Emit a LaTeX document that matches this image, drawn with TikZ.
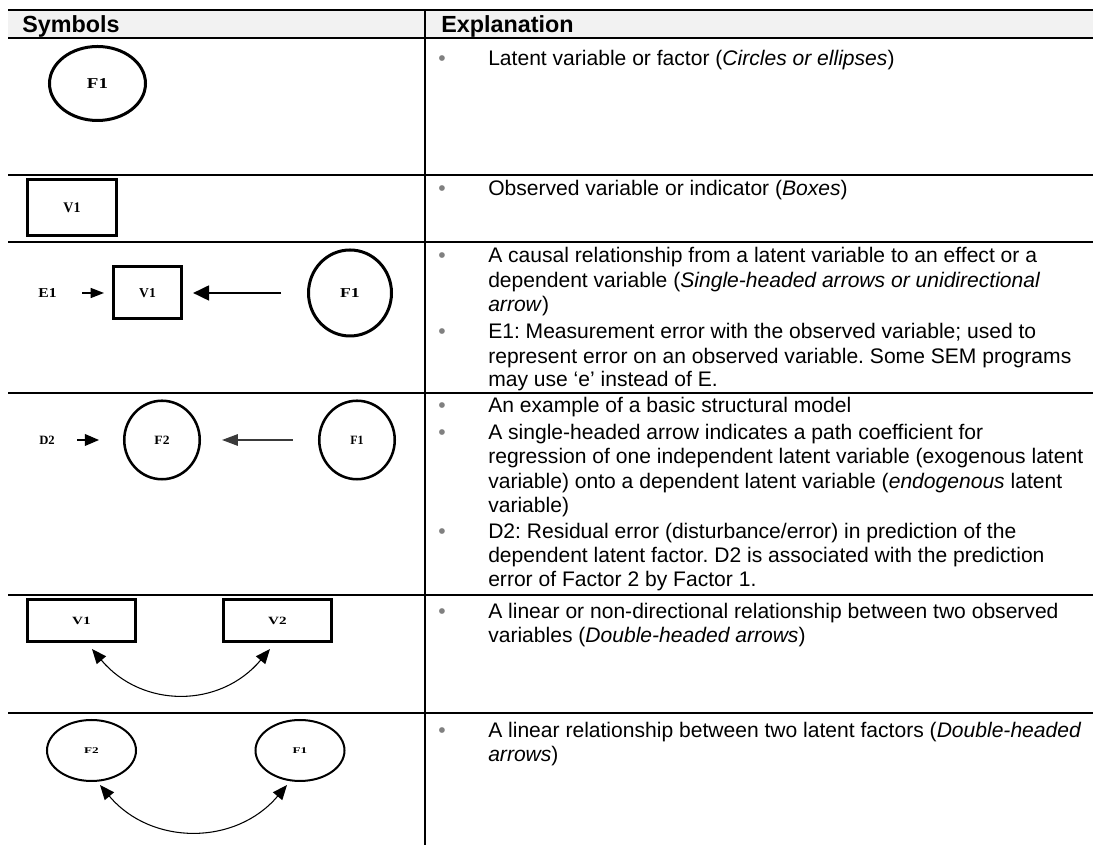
\documentclass[tikz,border=0pt]{standalone}
\usepackage{graphicx}
\usepackage{fontspec}
\setmainfont{Liberation Sans}
\newfontfamily\labelserif{Liberation Serif}
\usetikzlibrary{arrows.meta,shapes.geometric}
\frenchspacing

% one drawing unit = one pixel
\newdimen\pxl \pxl=0.75pt

\definecolor{headgray}{HTML}{F2F2F2}
\definecolor{bulletgray}{HTML}{808080}
\definecolor{shaftgray}{HTML}{3A3A3A}

% bold serif label: size, horizontal stretch, text
\newcommand\symlabel[3]{{\fontsize{#1}{#1}\selectfont\labelserif\bfseries\scalebox{#2}[1]{#3}}}

\tikzset{
  rule/.style={line width=1.5pt},
  hdr/.style={anchor=base west, inner sep=0pt, font=\fontsize{17.5}{21}\selectfont\bfseries},
  txt/.style={anchor=base west, inner sep=0pt, font=\fontsize{15.8}{18}\selectfont},
  bul/.style={anchor=base, inner sep=0pt, text=bulletgray, font=\fontsize{15.8}{18}\selectfont},
  latent/.style={ellipse, draw, inner sep=0pt},
  observed/.style={rectangle, draw, inner sep=0pt},
  lbl/.style={inner sep=0pt},
  dbl/.style={line width=0.8pt, {Triangle[length=11pt,width=9pt]}-{Triangle[length=11pt,width=9pt]}},
}

\begin{document}
\begin{tikzpicture}[x=0.75pt, y=0.75pt]
\useasboundingbox (0,0) rectangle (1093,845);

% ---- table frame ----
\fill[headgray] (8,807) rectangle (1093,835);
\foreach \yy in {835,807,670,603,452,250,132}
  \draw[rule] (8,\yy) -- (1093,\yy);
\draw[rule] (425,835) -- (425,0);

\node[hdr] (hsym) at (22,812.7) {Symbols};
\node[hdr] (hexp) at (441,812.7) {Explanation};

% ---- row 1: latent variable ----
\node[latent, line width=2.25pt, minimum width=96\pxl, minimum height=74\pxl] (r1f1) at (97.5,761.5) {\symlabel{11.3}{1.26}{F1}};
\node[bul] (r1b1) at (442,779.5) {•};
\node[txt] (r1l1) at (488,779.5) {Latent variable or factor (\textit{Circles or ellipses})};

% ---- row 2: observed variable ----
\node[observed, line width=2.25pt, minimum width=89\pxl, minimum height=56\pxl] (r2v1) at (72,637.5) {\symlabel{11}{0.95}{V1}};
\node[bul] (r2b1) at (442,649) {•};
\node[txt] (r2l1) at (488,649) {Observed variable or indicator (\textit{Boxes})};

% ---- row 3: causal path with measurement error ----
\node[lbl] (r3e1) at (47.5,552) {\symlabel{10.2}{1.15}{E1}};
\node[observed, line width=2.25pt, minimum width=68\pxl, minimum height=52\pxl] (r3v1) at (147.5,552) {\symlabel{10.2}{1}{V1}};
\node[latent, line width=2.25pt, minimum width=83\pxl, minimum height=86\pxl] (r3f1) at (350,552) {\symlabel{10.2}{1.3}{F1}};
\draw[line width=1pt, -{Triangle[length=10pt,width=7.5pt]}, shorten <=19pt, shorten >=6pt] (r3e1) -- (r3v1);
\draw[line width=2pt, -{Triangle[length=12pt,width=11pt]}, shorten <=19.5pt, shorten >=7.5pt] (r3f1) -- (r3v1);

\node[bul] (r3b1) at (442,582.3) {•};
\node[txt] (r3l1) at (488,582.3) {A causal relationship from a latent variable to an effect or a};
\node[txt] (r3l2) at (488,557.7) {dependent variable (\textit{Single-headed arrows or unidirectional}};
\node[txt] (r3l3) at (488,533.3) {\textit{arrow})};
\node[bul] (r3b2) at (442,506.7) {•};
\node[txt] (r3l4) at (488,506.7) {E1: Measurement error with the observed variable; used to};
\node[txt] (r3l5) at (488,481.7) {represent error on an observed variable. Some SEM programs};
\node[txt] (r3l6) at (488,458.3) {may use ‘e’ instead of E.};

% ---- row 4: structural model ----
\node[lbl] (r4d2) at (47,405) {\symlabel{9.5}{1}{D2}};
\node[latent, line width=1.9pt, minimum width=75.5\pxl, minimum height=78.5\pxl] (r4f2) at (162,405) {\symlabel{9.5}{1.07}{F2}};
\node[latent, line width=1.9pt, minimum width=75.5\pxl, minimum height=78.5\pxl] (r4f1) at (357,405) {\symlabel{9.5}{0.95}{F1}};
\draw[line width=1pt, -{Triangle[length=10.5pt,width=8.75pt]}, shorten <=16.7pt, shorten >=18pt] (r4d2) -- (r4f2);
\draw[line width=1.2pt, draw=shaftgray, -{Triangle[length=11.8pt,width=8.5pt]}, shorten <=18.75pt, shorten >=15.75pt] (r4f1) -- (r4f2);

\node[bul] (r4b1) at (442,432) {•};
\node[txt] (r4l1) at (488,432) {An example of a basic structural model};
\node[bul] (r4b2) at (442,405.5) {•};
\node[txt] (r4l2) at (488,405.5) {A single-headed arrow indicates a path coefficient for};
\node[txt] (r4l3) at (488,381) {regression of one independent latent variable (exogenous latent};
\node[txt] (r4l4) at (488,356.5) {variable) onto a dependent latent variable (\textit{endogenous} latent};
\node[txt] (r4l5) at (488,332) {variable)};
\node[bul] (r4b3) at (442,306) {•};
\node[txt] (r4l6) at (488,306) {D2: Residual error (disturbance/error) in prediction of the};
\node[txt] (r4l7) at (488,282) {dependent latent factor. D2 is associated with the prediction};
\node[txt] (r4l8) at (488,258) {error of Factor 2 by Factor 1.};

% ---- row 5: covariance between observed variables ----
\node[observed, line width=2.25pt, minimum width=108\pxl, minimum height=42\pxl] (r5v1) at (81.5,224.5) {\symlabel{8.3}{1.37}{V1}};
\node[observed, line width=2.25pt, minimum width=108\pxl, minimum height=42\pxl] (r5v2) at (277.5,224.5) {\symlabel{8.3}{1.37}{V2}};
\draw[dbl] ([shift={(10.5,-6)}]r5v1.south) to[out=-50, in=-130, looseness=1.12] ([shift={(-7.5,-6)}]r5v2.south);

\node[bul] (r5b1) at (442,226.3) {•};
\node[txt] (r5l1) at (488,226.3) {A linear or non-directional relationship between two observed};
\node[txt] (r5l2) at (488,202) {variables (\textit{Double-headed arrows})};

% ---- row 6: covariance between latent factors ----
\node[latent, line width=1.5pt, minimum width=89\pxl, minimum height=61\pxl] (r6f2) at (91.5,94.5) {\symlabel{6.6}{1.5}{F2}};
\node[latent, line width=1.5pt, minimum width=89\pxl, minimum height=61\pxl] (r6f1) at (300,94.5) {\symlabel{6.6}{1.5}{F1}};
\draw[dbl] ([shift={(8.5,-3)}]r6f2.south) to[out=-50, in=-130, looseness=1.09] ([shift={(-13,-3)}]r6f1.south);

\node[bul] (r6b1) at (442,107.3) {•};
\node[txt] (r6l1) at (488,107.3) {A linear relationship between two latent factors (\textit{Double-headed}};
\node[txt] (r6l2) at (488,83) {\textit{arrows})};
\end{tikzpicture}
\end{document}
